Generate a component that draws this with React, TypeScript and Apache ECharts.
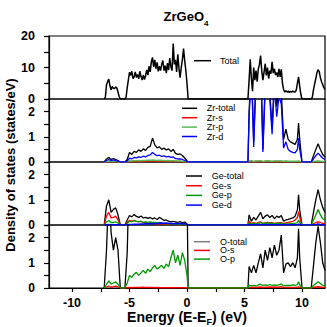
import React, { useEffect, useRef } from "react";
import * as echarts from "echarts";

// ---------- data ----------
// Fine energy grid (eV) for the total DOS
const energyFine = [
  -7.2, -7.1, -7.0, -6.9, -6.8, -6.7, -6.6, -6.5, -6.4, -6.3, -6.2, -6.1, -6.0, -5.9, -5.8,
  -5.4, -5.3, -5.2, -5.1, -5.0, -4.9, -4.8, -4.7, -4.6, -4.5,
  -4.4, -4.3, -4.2, -4.1, -4.0, -3.9, -3.8, -3.7, -3.6, -3.5,
  -3.4, -3.3, -3.2, -3.1, -3.0, -2.9, -2.8, -2.7, -2.6, -2.5,
  -2.4, -2.3, -2.2, -2.1, -2.0, -1.9, -1.8, -1.7, -1.6, -1.5,
  -1.4, -1.3, -1.2, -1.1, -1.0, -0.9, -0.8, -0.7, -0.6, -0.5,
  -0.4, -0.3, -0.2, -0.1, 0.0, 0.1,
  5.3, 5.4, 5.5, 5.6, 5.7, 5.8, 5.9, 6.0, 6.1, 6.2,
  6.3, 6.4, 6.5, 6.6, 6.7, 6.8, 6.9, 7.0, 7.1, 7.2,
  7.3, 7.4, 7.5, 7.6, 7.7, 7.8, 7.9, 8.0, 8.1, 8.2,
  8.3, 8.4, 8.5, 8.6, 8.7, 8.8, 8.9, 9.0, 9.1, 9.2,
  9.3, 9.4, 9.5, 9.6, 9.7, 9.8, 9.9, 10.0,
  10.8, 10.9, 11.0, 11.1, 11.2, 11.3, 11.4, 11.5, 11.6, 11.7, 11.8, 11.9, 12.0,
];
const totalDos = [
  0, 0.5, 4.5, 5.5, 6.3, 4.2, 2.9, 4.0, 3.4, 3.3, 3.8, 3.5, 2.2, 0.8, 0,
  0, 0.5, 3.5, 6.0, 8.5, 7.5, 8.8, 6.5, 7.0, 8.6,
  6.8, 7.8, 6.4, 8.8, 7.2, 6.0, 7.6, 6.2, 7.4, 9.2,
  7.6, 10.4, 8.6, 11.8, 13.2, 10.2, 12.4, 9.6, 11.6, 8.8,
  10.4, 9.0, 11.0, 12.2, 9.0, 10.6, 8.2, 11.4, 9.2, 13.0,
  10.2, 9.0, 17.6, 11.0, 12.4, 8.6, 14.2, 9.8, 6.8, 10.0,
  12.6, 16.0, 12.2, 9.0, 5.0, 0,
  0, 6.0, 12.6, 6.5, 2.5, 10.0, 6.0, 9.0, 5.5, 9.5,
  11.0, 13.8, 9.0, 6.0, 8.5, 11.2, 7.5, 10.0, 6.5, 9.0,
  8.0, 11.8, 8.2, 9.6, 7.6, 8.4, 7.0, 9.6, 7.0, 9.4,
  5.0, 3.0, 2.2, 2.6, 2.2, 2.5, 2.1, 2.4, 2.2, 2.5,
  2.3, 2.2, 2.8, 5.0, 7.0, 4.0, 1.5, 0,
  0, 0.6, 3.0, 4.8, 6.5, 8.4, 9.3, 8.6, 6.8, 5.5, 4.6, 3.6, 3.0,
];

// Coarser energy grid (eV) for the projected DOS
const energy = [
  -7.2, -7.0, -6.8, -6.6, -6.4, -6.2, -6.0, -5.8,
  -5.4, -5.2, -5.0, -4.8, -4.6, -4.4, -4.2, -4.0, -3.8, -3.6, -3.4, -3.2, -3.0, -2.8, -2.6, -2.4,
  -2.2, -2.0, -1.8, -1.6, -1.4, -1.2, -1.0, -0.8, -0.6, -0.4, -0.2, 0.0, 0.1,
  5.3, 5.4, 5.6, 5.8, 6.0, 6.2, 6.4, 6.6, 6.8, 7.0, 7.2, 7.4, 7.6, 7.8, 8.0, 8.2, 8.4, 8.6,
  8.8, 9.0, 9.2, 9.4, 9.6, 9.7, 9.8, 10.0,
  10.8, 11.0, 11.2, 11.4, 11.6, 11.8, 12.0,
];

const zrTotal = [
  0, 0.12, 0.18, 0.1, 0.14, 0.1, 0.06, 0,
  0, 0.1, 0.38, 0.3, 0.42, 0.38, 0.48, 0.42, 0.52, 0.46, 0.58, 0.62, 0.95, 0.68, 0.56, 0.6,
  0.5, 0.55, 0.48, 0.52, 0.42, 0.5, 0.34, 0.3, 0.32, 0.26, 0.16, 0.05, 0,
  0, 2.0, 4.0, 0.8, 3.5, 3.0, 4.5, 0.5, 3.2, 4.0, 2.8, 1.3, 3.5, 2.2, 3.0, 2.8, 0.9, 1.3,
  0.9, 0.8, 0.75, 0.7, 0.9, 1.55, 0.9, 0,
  0, 0.25, 0.5, 0.72, 0.5, 0.3, 0.2,
];
const zrS = [
  0, 0.01, 0.02, 0.01, 0.02, 0.01, 0.01, 0,
  0, 0.01, 0.02, 0.02, 0.03, 0.02, 0.03, 0.02, 0.03, 0.03, 0.04, 0.04, 0.05, 0.04, 0.03, 0.04,
  0.03, 0.03, 0.03, 0.03, 0.02, 0.02, 0.02, 0.02, 0.02, 0.01, 0.01, 0.0, 0,
  0, 0.02, 0.03, 0.01, 0.03, 0.02, 0.03, 0.01, 0.02, 0.03, 0.02, 0.01, 0.02, 0.02, 0.02, 0.02, 0.01, 0.02,
  0.01, 0.01, 0.01, 0.01, 0.01, 0.02, 0.01, 0,
  0, 0.01, 0.01, 0.02, 0.01, 0.01, 0.01,
];
const zrP = [
  0, 0.02, 0.03, 0.02, 0.02, 0.02, 0.01, 0,
  0, 0.02, 0.04, 0.04, 0.05, 0.05, 0.06, 0.05, 0.06, 0.06, 0.07, 0.07, 0.08, 0.07, 0.06, 0.07,
  0.06, 0.06, 0.05, 0.06, 0.05, 0.05, 0.04, 0.04, 0.04, 0.03, 0.02, 0.01, 0,
  0, 0.03, 0.05, 0.02, 0.04, 0.04, 0.05, 0.02, 0.04, 0.05, 0.04, 0.03, 0.04, 0.04, 0.04, 0.04, 0.03, 0.04,
  0.03, 0.03, 0.03, 0.03, 0.03, 0.04, 0.03, 0,
  0, 0.02, 0.03, 0.04, 0.03, 0.02, 0.02,
];
const zrD = [
  0, 0.06, 0.1, 0.05, 0.08, 0.05, 0.03, 0,
  0, 0.04, 0.15, 0.12, 0.18, 0.16, 0.2, 0.18, 0.23, 0.2, 0.26, 0.28, 0.38, 0.3, 0.25, 0.27,
  0.22, 0.24, 0.2, 0.22, 0.18, 0.2, 0.13, 0.12, 0.12, 0.1, 0.06, 0.02, 0,
  0, 1.8, 3.6, 0.6, 3.2, 2.7, 4.0, 0.4, 2.9, 3.6, 2.5, 1.1, 3.0, 1.8, 2.6, 2.3, 0.55, 0.8,
  0.5, 0.42, 0.38, 0.36, 0.5, 0.95, 0.5, 0,
  0, 0.12, 0.25, 0.35, 0.25, 0.15, 0.1,
];

const geTotal = [
  0, 0.75, 1.0, 0.5, 0.62, 0.68, 0.4, 0,
  0, 0.2, 0.38, 0.32, 0.42, 0.34, 0.3, 0.36, 0.28, 0.3, 0.26, 0.3, 0.24, 0.28, 0.22, 0.3,
  0.25, 0.18, 0.2, 0.15, 0.12, 0.14, 0.12, 0.1, 0.14, 0.08, 0.12, 0.04, 0,
  0, 0.4, 0.15, 0.3, 0.2, 0.35, 0.5, 0.25, 0.35, 0.4, 0.3, 0.38, 0.25, 0.35, 0.3, 0.38, 0.15, 0.2,
  0.22, 0.25, 0.28, 0.35, 0.6, 1.2, 0.6, 0,
  0, 0.5, 1.0, 1.4, 1.0, 0.7, 0.5,
];
const geS = [
  0, 0.35, 0.5, 0.28, 0.3, 0.35, 0.2, 0,
  0, 0.1, 0.18, 0.15, 0.18, 0.14, 0.12, 0.14, 0.1, 0.1, 0.08, 0.08, 0.06, 0.06, 0.05, 0.06,
  0.05, 0.04, 0.04, 0.03, 0.03, 0.03, 0.02, 0.02, 0.03, 0.02, 0.02, 0.01, 0,
  0, 0.15, 0.05, 0.1, 0.06, 0.1, 0.12, 0.06, 0.08, 0.1, 0.08, 0.1, 0.06, 0.08, 0.08, 0.1, 0.05, 0.08,
  0.1, 0.12, 0.14, 0.2, 0.3, 0.53, 0.3, 0,
  0, 0.05, 0.1, 0.12, 0.1, 0.06, 0.05,
];
const geP = [
  0, 0.12, 0.18, 0.1, 0.1, 0.12, 0.08, 0,
  0, 0.06, 0.15, 0.12, 0.18, 0.14, 0.13, 0.15, 0.1, 0.12, 0.1, 0.12, 0.1, 0.1, 0.08, 0.1,
  0.08, 0.06, 0.06, 0.05, 0.04, 0.04, 0.03, 0.03, 0.04, 0.02, 0.03, 0.01, 0,
  0, 0.08, 0.03, 0.06, 0.04, 0.06, 0.1, 0.05, 0.07, 0.08, 0.06, 0.07, 0.05, 0.06, 0.06, 0.07, 0.03, 0.04,
  0.04, 0.05, 0.05, 0.06, 0.1, 0.2, 0.1, 0,
  0, 0.2, 0.4, 0.62, 0.4, 0.25, 0.2,
];
const geD = [
  0, 0.01, 0.02, 0.01, 0.01, 0.01, 0.01, 0,
  0, 0.01, 0.02, 0.02, 0.03, 0.03, 0.03, 0.04, 0.04, 0.05, 0.05, 0.06, 0.05, 0.06, 0.06, 0.07,
  0.08, 0.07, 0.08, 0.07, 0.06, 0.05, 0.06, 0.05, 0.06, 0.04, 0.05, 0.02, 0,
  0, 0.01, 0.01, 0.01, 0.01, 0.01, 0.02, 0.01, 0.01, 0.02, 0.01, 0.01, 0.01, 0.01, 0.01, 0.01, 0.01, 0.01,
  0.01, 0.01, 0.01, 0.01, 0.02, 0.03, 0.02, 0,
  0, 0.01, 0.02, 0.04, 0.02, 0.01, 0.01,
];

const oTotal = [
  0, 1.5, 4.0, 2.2, 1.5, 2.0, 1.5, 0,
  0, 1.4, 5.0, 4.6, 5.4, 5.0, 5.6, 5.2, 6.0, 5.4, 6.2, 6.8, 7.4, 6.6, 7.0, 6.4,
  7.2, 6.2, 6.8, 6.0, 7.6, 8.0, 7.0, 6.4, 6.0, 6.8, 5.4, 4.0, 0,
  0, 0.85, 0.6, 0.9, 0.6, 1.0, 1.35, 0.8, 1.5, 1.1, 1.6, 1.2, 1.7, 1.3, 1.5, 2.1, 0.6, 0.95,
  1.0, 0.85, 1.0, 0.8, 1.2, 2.35, 1.2, 0,
  0, 0.9, 1.8, 2.45, 1.8, 1.0, 0.7,
];
const oS = [
  0, 0.04, 0.08, 0.04, 0.05, 0.07, 0.04, 0,
  0, 0.01, 0.02, 0.01, 0.02, 0.02, 0.02, 0.02, 0.03, 0.02, 0.02, 0.02, 0.02, 0.01, 0.02, 0.01,
  0.01, 0.01, 0.01, 0.01, 0.01, 0.01, 0.01, 0.01, 0.01, 0.01, 0.01, 0.0, 0,
  0, 0.03, 0.02, 0.03, 0.02, 0.03, 0.04, 0.02, 0.03, 0.03, 0.04, 0.03, 0.04, 0.03, 0.03, 0.05, 0.02, 0.02,
  0.02, 0.02, 0.02, 0.02, 0.03, 0.05, 0.03, 0,
  0, 0.02, 0.04, 0.05, 0.04, 0.02, 0.02,
];
const oP = [
  0, 0.15, 0.28, 0.15, 0.2, 0.24, 0.15, 0,
  0, 0.2, 0.5, 0.42, 0.55, 0.62, 0.5, 0.6, 0.7, 0.58, 0.75, 0.65, 0.8, 0.9, 0.75, 0.82,
  0.9, 0.78, 0.95, 0.85, 1.2, 1.5, 1.0, 1.3, 0.9, 1.4, 1.1, 0.5, 0,
  0, 0.12, 0.08, 0.1, 0.08, 0.12, 0.15, 0.1, 0.12, 0.1, 0.14, 0.1, 0.12, 0.1, 0.12, 0.16, 0.08, 0.1,
  0.1, 0.1, 0.12, 0.1, 0.14, 0.25, 0.12, 0,
  0, 0.1, 0.18, 0.25, 0.18, 0.1, 0.08,
];

const xTickValues = [-10, -7.5, -5, -2.5, 0, 2.5, 5, 7.5, 10];
const xLabelValues = [-10, -5, 0, 5, 10];
const legendTotal = ["Total"];
const legendZr = ["Zr-total", "Zr-s", "Zr-p", "Zr-d"];
const legendGe = ["Ge-total", "Ge-s", "Ge-p", "Ge-d"];
const legendO = ["O-total", "O-s", "O-p"];

// ---------- chart ----------
const FONT = '"Liberation Sans", Arial, Helvetica, sans-serif';

const COLORS: Record<string, string> = {
  Total: "#000000",
  "Zr-total": "#000000",
  "Zr-s": "#ff0000",
  "Zr-p": "#55bb55",
  "Zr-d": "#0000ff",
  "Ge-total": "#000000",
  "Ge-s": "#ff0000",
  "Ge-p": "#009900",
  "Ge-d": "#0000ff",
  "O-total": "#000000",
  "O-s": "#ff0000",
  "O-p": "#009900",
};
const KEY_COLORS: Record<string, string> = { "O-total": "#808080" };

function pairs(xs: number[], ys: number[]) {
  return xs.map((x, i) => [x, ys[i]]);
}

function line(name: string, xs: number[], ys: number[], idx: number, width = 1.3) {
  const color = COLORS[name];
  return {
    type: "line",
    name,
    data: pairs(xs, ys),
    xAxisIndex: idx,
    yAxisIndex: idx,
    symbol: "none",
    showSymbol: false,
    clip: true,
    silent: true,
    lineStyle: { color, width },
    itemStyle: { color },
  };
}

// legend keys drawn as graphic line + text rows
function legendBlock(names: string[], x1: number, x2: number, tx: number, y0: number, dy: number) {
  const els: any[] = [];
  names.forEach((n, i) => {
    const y = y0 + i * dy;
    els.push({
      type: "line",
      shape: { x1, y1: y, x2, y2: y },
      style: { stroke: KEY_COLORS[n] || COLORS[n], lineWidth: 1.5 },
      silent: true,
    });
    els.push({
      type: "text",
      x: tx,
      y,
      silent: true,
      style: {
        text: n,
        fontSize: 9,
        fontFamily: FONT,
        fill: "#000",
        align: "left",
        verticalAlign: "middle",
        textAlign: "left",
        textVerticalAlign: "middle",
      },
    });
  });
  return els;
}

function buildOption() {
  const tops = [36, 99, 162, 225];
  const grid = tops.map((t) => ({
    left: 49,
    width: 276,
    top: t,
    height: 63,
    show: true,
    borderColor: "#000",
    borderWidth: 1.2,
    backgroundColor: "rgba(0,0,0,0)",
  }));
  const xAxis = tops.map((_, i) => ({
    type: "value",
    gridIndex: i,
    min: -12,
    max: 12,
    splitLine: { show: false },
    axisLine: { show: i === 3, onZero: false, lineStyle: { color: "#000", width: 1.2 } },
    axisTick: {
      show: i === 3,
      length: 4,
      customValues: xTickValues,
      lineStyle: { color: "#000", width: 1.2 },
    },
    axisLabel: {
      show: i === 3,
      customValues: xLabelValues,
      margin: 8,
      fontSize: 12.5,
      fontWeight: "bold",
      color: "#000",
      fontFamily: FONT,
    },
  }));
  const yCommon = {
    type: "value",
    min: 0,
    splitLine: { show: false },
    axisLine: { show: true, onZero: false, lineStyle: { color: "#000", width: 1.2 } },
    axisTick: { show: true, length: 5, lineStyle: { color: "#000", width: 1.2 } },
  };
  const labelStyle = {
    margin: 14,
    fontSize: 12,
    fontWeight: "bold",
    color: "#000",
    fontFamily: FONT,
    showMinLabel: true,
  };
  const yAxis = [
    {
      ...yCommon,
      gridIndex: 0,
      max: 20,
      interval: 5,
      axisLabel: {
        ...labelStyle,
        fontSize: 12.5,
        showMaxLabel: true,
        formatter: (v: number) => (v % 10 === 0 ? String(v) : ""),
      },
    },
    ...[1, 2, 3].map((i) => ({
      ...yCommon,
      gridIndex: i,
      max: 2.5,
      interval: 0.5,
      axisLabel: {
        ...labelStyle,
        formatter: (v: number) =>
          Math.abs(v - Math.round(v)) < 1e-6 && v < 2.4 ? String(Math.round(v)) : "",
      },
    })),
  ];

  const series = [
    line("Total", energyFine, totalDos, 0, 1.5),
    line("Zr-total", energy, zrTotal, 1),
    line("Zr-s", energy, zrS, 1),
    line("Zr-p", energy, zrP, 1),
    line("Zr-d", energy, zrD, 1),
    line("Ge-total", energy, geTotal, 2),
    line("Ge-s", energy, geS, 2),
    line("Ge-p", energy, geP, 2),
    line("Ge-d", energy, geD, 2),
    line("O-total", energy, oTotal, 3),
    line("O-s", energy, oS, 3),
    line("O-p", energy, oP, 3),
  ];

  const graphic = [
    ...legendBlock(legendTotal, 194, 211, 220, 60.7, 9.4),
    ...legendBlock(legendZr, 182, 197, 206.7, 108.3, 9.4),
    ...legendBlock(legendGe, 186, 202, 211.7, 176, 9.7),
    ...legendBlock(legendO, 194, 210, 220, 241.7, 8.7),
    {
      type: "text",
      x: 186,
      y: 18.5,
      style: {
        text: "{a|ZrGeO}{b|4}",
        align: "center",
        verticalAlign: "middle",
        textAlign: "center",
        textVerticalAlign: "middle",
        fill: "#000",
        rich: {
          a: { fontSize: 13, fontWeight: "bold", fontFamily: FONT, lineHeight: 17.5, verticalAlign: "top" },
          b: { fontSize: 8, fontWeight: "bold", fontFamily: FONT, lineHeight: 17.5, verticalAlign: "bottom" },
        },
      },
    },
    {
      type: "text",
      x: 187,
      y: 318,
      style: {
        text: "{a|Energy (E-E}{b|F}{a|) (eV)}",
        align: "center",
        verticalAlign: "middle",
        textAlign: "center",
        textVerticalAlign: "middle",
        fill: "#000",
        rich: {
          a: { fontSize: 14, fontWeight: "bold", fontFamily: FONT, lineHeight: 17, verticalAlign: "top" },
          b: { fontSize: 9, fontWeight: "bold", fontFamily: FONT, lineHeight: 17, verticalAlign: "bottom" },
        },
      },
    },
    {
      type: "text",
      x: 10,
      y: 165,
      rotation: Math.PI / 2,
      style: {
        text: "Density of states (states/eV)",
        align: "center",
        verticalAlign: "middle",
        textAlign: "center",
        textVerticalAlign: "middle",
        fill: "#000",
        fontSize: 13,
        fontWeight: "bold",
        fontFamily: FONT,
      },
    },
  ];

  return {
    animation: false,
    backgroundColor: "#ffffff",
    grid,
    xAxis,
    yAxis,
    series,
    graphic,
  };
}

export default function App() {
  const ref = useRef<HTMLDivElement>(null);
  useEffect(() => {
    if (!ref.current) return;
    const chart = echarts.init(ref.current, null, { renderer: "svg" });
    chart.setOption(buildOption() as any);
    return () => chart.dispose();
  }, []);
  return (
    <div
      ref={ref}
      style={{ position: "fixed", left: 0, top: 0, width: 327, height: 327, background: "#fff" }}
    />
  );
}
